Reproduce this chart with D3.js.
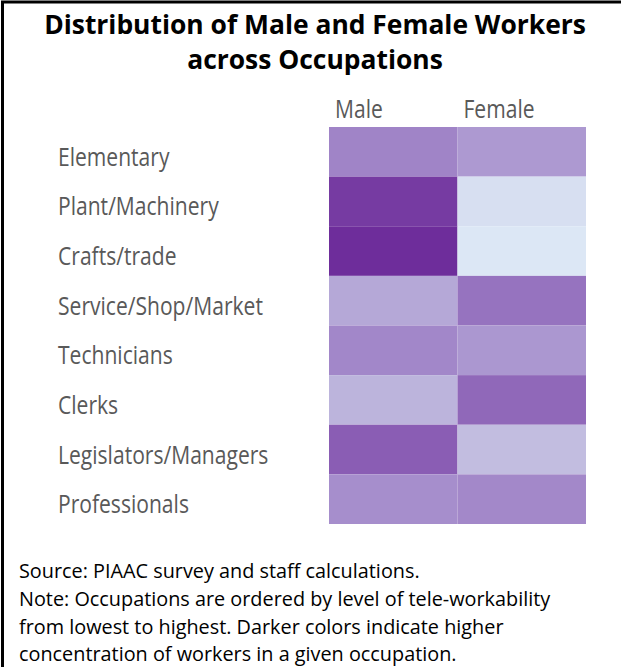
<!DOCTYPE html>
<html><head><meta charset="utf-8">
<script src="https://cdn.jsdelivr.net/npm/d3@7"></script>
<style>body{margin:0;background:#fff}svg{display:block}</style>
</head><body><svg id="c" width="621" height="667"></svg>
<script>
// ---- data ----
const categories = ["Elementary","Plant/Machinery","Crafts/trade","Service/Shop/Market","Technicians","Clerks","Legislators/Managers","Professionals"];
const genders = ["Male","Female"];
const maleValues   = [11.0, 20.0, 22.0, 7.9, 10.7, 6.9, 15.0, 10.0];
const femaleValues = [9.1, 3.0, 2.2, 12.8, 9.3, 13.9, 6.2, 10.6];
const colorStops = [2, 6, 10, 15, 22];
const colorRange = ["#dde9f6","#c3bfe1","#a68ecc","#8a5db4","#6e2d9b"];
const titleLines = ["Distribution of Male and Female Workers","across Occupations"];
const noteLines = [
  "Source: PIAAC survey and staff calculations.",
  "Note: Occupations are ordered by level of tele-workability",
  "from lowest to highest. Darker colors indicate higher",
  "concentration of workers in a given occupation."
];

// ---- build ----
const svg = d3.select("#c");
const cells = [];
categories.forEach((c,i)=>{
  cells.push({cat:c, g:"Male", v:maleValues[i]});
  cells.push({cat:c, g:"Female", v:femaleValues[i]});
});

const x = d3.scaleBand().domain(genders).range([329, 586]);
const y = d3.scaleBand().domain(categories).range([127, 524]);
const color = d3.scaleLinear().domain(colorStops).range(colorRange).interpolate(d3.interpolateRgb).clamp(true);

// border (left + top)
svg.append("path").attr("d","M2.5,667 V2 H621").attr("fill","none").attr("stroke","#000").attr("stroke-width",3);

function fitText(t, target){
  const w = t.node().getComputedTextLength();
  return target / w;
}
// title
const titleFont = "'Open Sans', sans-serif";
let tScale = null;
titleLines.forEach((line,i)=>{
  const g = svg.append("g");
  const t = g.append("text").text(line)
    .attr("font-family", titleFont).attr("font-weight",700).attr("font-size",26.5)
    .attr("text-anchor","middle").attr("fill","#000");
  if (tScale===null) tScale = fitText(t, 542);
  g.attr("transform", `translate(315,${i===0?34:69}) scale(${tScale},1)`);
});

// label style
const labFont = "'Open Sans', sans-serif";
const labSize = 26;
const probe = svg.append("text").text("Service/Shop/Market").attr("font-family",labFont).attr("font-size",labSize);
const lScale = fitText(probe, 205);
probe.remove();

// heatmap cells
svg.append("g").selectAll("rect").data(cells).join("rect")
  .attr("x", d=>x(d.g)).attr("y", d=>y(d.cat))
  .attr("width", x.bandwidth()).attr("height", y.bandwidth())
  .attr("fill", d=>color(d.v));

// column headers
svg.append("g").selectAll("g").data(genders).join("g")
  .attr("transform", d=>`translate(${x(d)+6},118) scale(${lScale},1)`)
  .append("text").text(d=>d)
  .attr("font-family",labFont).attr("font-size",labSize).attr("fill","#595959");

// category labels
svg.append("g").selectAll("g").data(categories).join("g")
  .attr("transform", d=>`translate(58,${y(d)+y.bandwidth()/2+14}) scale(${lScale},1)`)
  .append("text").text(d=>d)
  .attr("font-family",labFont).attr("font-size",labSize).attr("fill","#595959");

// notes
const noteFont = "'Open Sans', sans-serif";
const p2 = svg.append("text").text(noteLines[0]).attr("font-family",noteFont).attr("font-size",20);
const nScale = fitText(p2, 401);
p2.remove();
noteLines.forEach((line,i)=>{
  svg.append("g").attr("transform", `translate(19,${578+i*27.8}) scale(${nScale},1)`)
    .append("text").text(line)
    .attr("font-family",noteFont).attr("font-size",20).attr("fill","#000");
});
</script>
</body></html>
